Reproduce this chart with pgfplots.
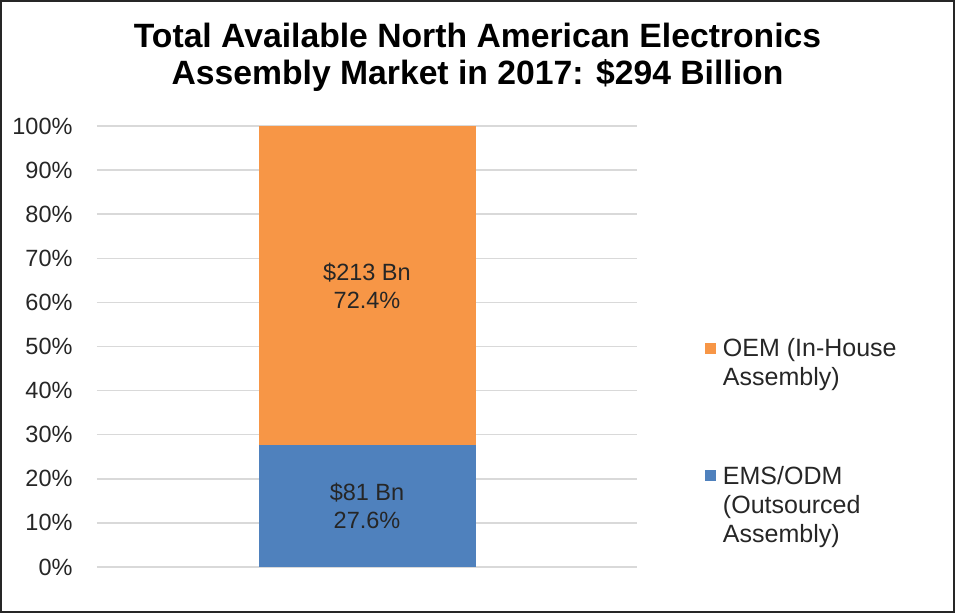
\documentclass[border=0pt]{standalone}
\usepackage{pgfplots}
\pgfplotsset{compat=1.18}
\usepackage{fontspec}
\setmainfont{Liberation Sans}
\definecolor{oemorange}{HTML}{F79646}
\definecolor{emsblue}{HTML}{4F81BD}
\definecolor{gridgray}{HTML}{D9D9D9}
\begin{document}
\begin{tikzpicture}
\begin{axis}[
  scale only axis,
  width=540bp, height=441bp,
  at={(0,0)}, anchor=south west,
  xmin=0, xmax=1, ymin=0, ymax=100,
  ybar stacked,
  bar width=217bp,
  xtick=\empty,
  ytick={0,10,...,100},
  yticklabel={\pgfmathprintnumber{\tick}\%},
  /pgf/number format/assume math mode=true,
  ymajorgrids,
  major grid style={gridgray, line width=1.5bp},
  axis line style={draw=none},
  major tick length=0pt,
  tick style={draw=none},
  yticklabel style={font=\fontsize{23.5bp}{27bp}\selectfont, color=black!85, xshift=-21bp},
  reverse legend,
  legend style={draw=none, fill=none, at={(1.120,0.524)}, anchor=north west,
    font=\fontsize{25bp}{29bp}\selectfont, text=black!85,
    row sep=80bp, column sep=0bp,
    nodes={align=left, inner sep=0pt}},
  legend cell align=left,
  every node near coord/.append style={align=center, anchor=center,
    font=\fontsize{23.5bp}{28bp}\selectfont, text=black!85},
]
\addplot[fill=emsblue, draw=none,
  nodes near coords={\$81 Bn\\27.6\%},
  legend image code/.code={\fill[emsblue] (0bp,24.3bp) rectangle (11bp,35.3bp);}]
  coordinates {(0.5,27.6)};
\addlegendentry{\hspace{7bp}EMS/ODM\\\hspace{7bp}(Outsourced\\\hspace{7bp}Assembly)}
\addplot[fill=oemorange, draw=none,
  nodes near coords={\$213 Bn\\72.4\%},
  legend image code/.code={\fill[oemorange] (0bp,8.8bp) rectangle (11bp,19.8bp);}]
  coordinates {(0.5,72.4)};
\addlegendentry{\hspace{7bp}OEM (In-House\\\hspace{7bp}Assembly)}
\end{axis}
\draw[line width=2bp, black!85] (-96bp,-45bp) rectangle (857bp,566bp);
\node[anchor=base, font=\bfseries\fontsize{33.7bp}{38bp}\selectfont] at (380.5bp,519bp) {Total Available North American Electronics};
\node[anchor=base, font=\bfseries\fontsize{33.7bp}{38bp}\selectfont] at (380.5bp,482bp) {Assembly Market in 2017: \$294 Billion};
\end{tikzpicture}
\end{document}
